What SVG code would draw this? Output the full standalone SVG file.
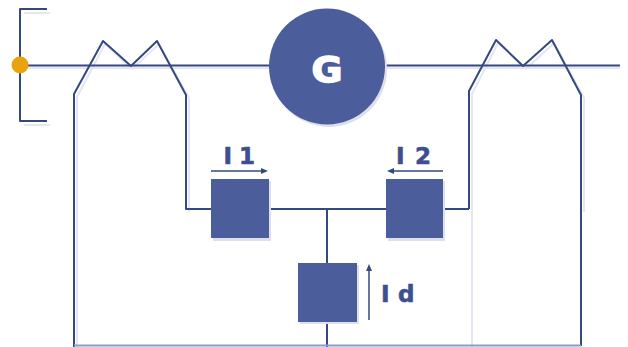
<svg xmlns="http://www.w3.org/2000/svg" width="628" height="347" viewBox="0 0 628 347">
<style>
.w{fill:none;stroke:#34497f;stroke-width:2;stroke-linejoin:round}
.s{fill:none;stroke:#e4e7f0;stroke-width:2;stroke-linejoin:round}
.b{fill:#4c5d9b}
.sh{fill:#dde0ea}
.t{font-family:"DejaVu Sans",sans-serif;font-weight:700;fill:#3d4f8f;stroke:#3d4f8f;stroke-width:.6;font-size:23px}
.a{fill:none;stroke:#34497f;stroke-width:1.5}
.h{fill:#34497f}
</style>
<rect width="628" height="347" fill="#fff"/>
<g id="connectors">
<path class="s" d="M24 13H50M24 125H50M22 68H620"/>
<path class="s" d="M77 347V97L105 44L132 69L159 44L189 98V212M472 347V94L498 43L526 69L554 43L584 98V212"/>
<path class="w" d="M47 9H20V121H47"/>
<path class="w" d="M20 65.500H620"/>
<path class="w" d="M74 347V94L103 41L131 66L157 41L186 95V209H443M469 209V91L496 40L523 66L552 40L581 95V346M443 209H469"/>
<path class="w" d="M327 209V347"/>
<path d="M74 345.500H581" fill="none" stroke="#8d9bc6" stroke-width="2"/>
</g>
<g id="transformer-dot"><circle cx="20" cy="65" r="8.500" fill="#e8a30f"/></g>
<g id="generator">
<circle class="sh" cx="329" cy="69" r="58"/>
<circle class="b" cx="327" cy="66.500" r="58"/>
<text x="327" y="82" text-anchor="middle" font-family="DejaVu Sans, sans-serif" font-weight="700" font-size="36" fill="#fff" stroke="#fff" stroke-width="1.5" textLength="31" lengthAdjust="spacingAndGlyphs">G</text>
</g>
<g id="relay-1">
<rect class="sh" x="213" y="181" width="58" height="60"/>
<rect class="b" x="211" y="179" width="58" height="59"/>
<path class="a" d="M211 171H266"/><path class="h" d="M268 171L261 168V174Z"/>
<text class="t" x="223.500" y="164">I</text><text class="t" x="239" y="164">1</text>
</g>
<g id="relay-2">
<rect class="sh" x="388" y="181" width="57" height="60"/>
<rect class="b" x="386" y="179" width="57" height="59"/>
<path class="a" d="M390 171H443"/><path class="h" d="M387 171L394 168V174Z"/>
<text class="t" x="396" y="164">I</text><text class="t" x="415" y="164">2</text>
</g>
<g id="relay-d">
<rect class="sh" x="300" y="265" width="59" height="59"/>
<rect class="b" x="298" y="263" width="59" height="59"/>
<path class="a" d="M369 320V268"/><path class="h" d="M369 264L366 271H372Z"/>
<text class="t" x="381" y="302">I</text><text class="t" x="398" y="302">d</text>
</g>
</svg>
